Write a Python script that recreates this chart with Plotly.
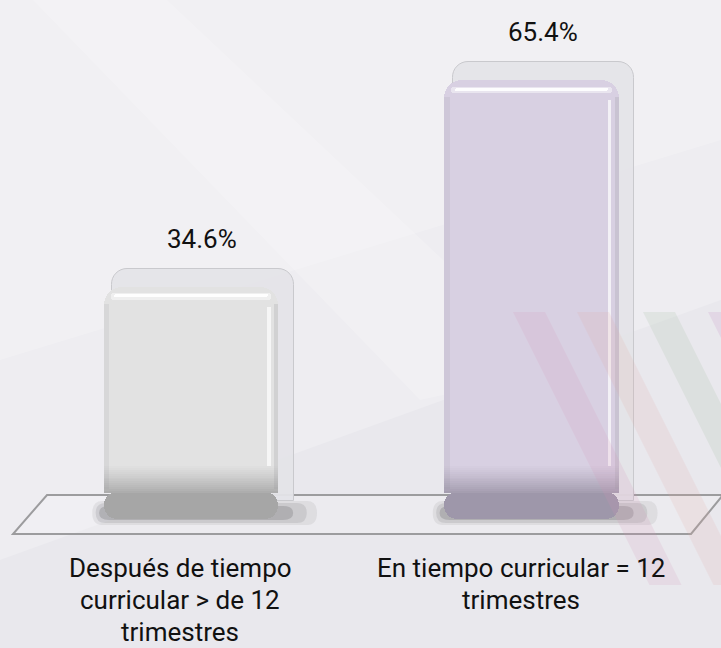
import plotly.graph_objects as go

# ---------------- data ----------------
categories = ["Después de tiempo<br>curricular > de 12<br>trimestres",
              "En tiempo curricular = 12<br>trimestres"]
values = [34.6, 65.4]
value_labels = [f"{v:.1f}%" for v in values]

# ---------------- styling constants ----------------
W, H = 721, 648
FONT = "Roboto, Liberation Sans, sans-serif"
FS = 26
face_rgb = [(226, 226, 226), (216, 208, 226)]
cap_rgb = [(166, 166, 166), (158, 151, 170)]
back_color = "rgba(228,228,232,0.95)"

# pixel geometry -> axis ranges (so that data map through plotly scales)
UNIT = 340.5          # px per category
C0 = 191.0            # px center of first category
X0 = -C0 / UNIT
X1 = X0 + W / UNIT
ZERO_PX = 519.0
K = (ZERO_PX - 80.0) / 65.4   # px per percentage point
Y0 = -(H - ZERO_PX) / K
Y1 = Y0 + H / K
DX_BACK, DY_BACK = 12.0, 18.0
CAP = 4.0
NB = 14
BAND = 0.28
BW = 0.513
BW_BACK = 0.532


def px(x):
    return x / W


def py(y):
    return 1 - y / H


def mix(a, b, t):
    return "rgb({},{},{})".format(*[round(a[k] + (b[k] - a[k]) * t) for k in range(3)])


idx = list(range(len(values)))

fig = go.Figure()

# back faces (base axes, shifted right/up)
fig.add_trace(go.Bar(x=idx, y=values, width=BW_BACK, xaxis="x", yaxis="y",
                     marker=dict(color=back_color, line=dict(color="#C9C9CD", width=1),
                                 cornerradius=16),
                     hoverinfo="skip", showlegend=False))
front = dict(xaxis="x2", yaxis="y2", hoverinfo="skip", showlegend=False)
# front cap (rounded bottom)
fig.add_trace(go.Bar(x=idx, y=[-CAP for _ in values], base=[CAP for _ in values], width=BW,
                     marker=dict(color=[mix(c, c, 0) for c in cap_rgb],
                                 cornerradius=26, line=dict(width=0)), **front))
# front main face (rounded top)
fig.add_trace(go.Bar(x=idx, y=[v - CAP for v in values], base=[CAP for _ in values], width=BW,
                     marker=dict(color=[mix(f, f, 0) for f in face_rgb], cornerradius=18,
                                 line=dict(width=0)), **front))
# lower shading bands (gradient from the cap up to the face colour)
for b in range(NB):
    t = ((b + 1) / (NB + 1)) ** 0.8
    fig.add_trace(go.Bar(x=idx, y=[BAND for _ in values], base=[CAP + b * BAND for _ in values], width=BW,
                         marker=dict(color=[mix(c, f, t) for c, f in zip(cap_rgb, face_rgb)],
                                     line=dict(width=0)), **front))
# top white highlight (soft)
fig.add_trace(go.Bar(x=idx, y=[1.0 for _ in values], base=[v - 2.0 for v in values], width=0.47,
                     marker=dict(color="rgba(255,255,255,0.45)", line=dict(width=0), cornerradius=3),
                     **front))
fig.add_trace(go.Bar(x=idx, y=[0.45 for _ in values], base=[v - 1.6 for v in values], width=0.45,
                     marker=dict(color="rgba(255,255,255,0.9)", line=dict(width=0), cornerradius=2),
                     **front))
# right edge highlight
fig.add_trace(go.Bar(x=idx, y=[v - CAP - NB * BAND - 3.0 for v in values], base=[CAP + NB * BAND for _ in values],
                     width=0.010, offset=0.224,
                     marker=dict(color="rgba(255,255,255,0.7)", line=dict(width=0)), **front))
# right edge soft dark
fig.add_trace(go.Bar(x=idx, y=[v - CAP - 3.0 for v in values], base=[CAP + 0.5 for _ in values],
                     width=0.012, offset=0.2445,
                     marker=dict(color="rgba(150,150,155,0.22)", line=dict(width=0)), **front))
# left edge soft dark
fig.add_trace(go.Bar(x=idx, y=[v - CAP - 3.0 for v in values], base=[CAP + 0.5 for _ in values],
                     width=0.016, offset=-0.2565,
                     marker=dict(color="rgba(140,140,145,0.12)", line=dict(width=0)), **front))

shapes = []
# background light overlays
shapes.append(dict(type="path", xref="paper", yref="paper", layer="below",
                   path=f"M {px(0)},{py(0)} L {px(W)},{py(0)} L {px(W)},{py(300)} L {px(0)},{py(560)} Z",
                   fillcolor="rgba(255,255,255,0.22)", line=dict(width=0)))
shapes.append(dict(type="path", xref="paper", yref="paper", layer="below",
                   path=f"M {px(0)},{py(0)} L {px(W)},{py(0)} L {px(W)},{py(140)} L {px(0)},{py(360)} Z",
                   fillcolor="rgba(255,255,255,0.2)", line=dict(width=0)))
shapes.append(dict(type="path", xref="paper", yref="paper", layer="below",
                   path=f"M {px(33)},{py(0)} L {px(167)},{py(0)} L {px(560)},{py(370)} L {px(420)},{py(400)} Z",
                   fillcolor="rgba(255,255,255,0.18)", line=dict(width=0)))
# floor
shapes.append(dict(type="path", xref="paper", yref="paper", layer="below",
                   path=f"M {px(47)},{py(495)} L {px(723)},{py(495)} L {px(691)},{py(534)} L {px(13)},{py(534)} Z",
                   fillcolor="rgba(255,255,255,0.15)", line=dict(color="#9C9C9E", width=2)))


def pill(x0, x1, y0, y1, r):
    ym = (y0 + y1) / 2
    return (f"M {px(x0 + r)},{py(y0)} L {px(x1 - r)},{py(y0)} "
            f"Q {px(x1)},{py(y0)} {px(x1)},{py(ym)} Q {px(x1)},{py(y1)} {px(x1 - r)},{py(y1)} "
            f"L {px(x0 + r)},{py(y1)} Q {px(x0)},{py(y1)} {px(x0)},{py(ym)} "
            f"Q {px(x0)},{py(y0)} {px(x0 + r)},{py(y0)} Z")


# soft shadows under bars
for i in idx:
    for (a, b, t, u, op) in [(-0.29, 0.37, 501, 525, 0.10), (-0.28, 0.34, 503, 523, 0.15),
                             (-0.27, 0.30, 506, 520, 0.25)]:
        shapes.append(dict(type="path", xref="paper", yref="paper", layer="below",
                           path=pill(C0 + (i + a) * UNIT, C0 + (i + b) * UNIT, t, u, 10),
                           fillcolor=f"rgba(95,95,100,{op})", line=dict(width=0)))
# decorative diagonal stripes (drawn faintly over the chart)
stripe_cols = ["rgba(215,150,185,0.17)", "rgba(225,170,160,0.16)",
               "rgba(170,195,170,0.20)", "rgba(200,150,200,0.20)"]
stripe_x = [513, 577, 643, 708]
for sx, col in zip(stripe_x, stripe_cols):
    top, bot, sw, sl = 312, 585, 32, 0.5
    shapes.append(dict(type="path", xref="paper", yref="paper", layer="above",
                       path=(f"M {px(sx)},{py(top)} L {px(sx + sw)},{py(top)} "
                             f"L {px(sx + sw + sl * (bot - top))},{py(bot)} L {px(sx + sl * (bot - top))},{py(bot)} Z"),
                       fillcolor=col, line=dict(width=0)))

annotations = []
# value labels above the back faces
for i, lab in zip(idx, value_labels):
    annotations.append(dict(x=i, y=values[i], xref="x", yref="y", text=lab, showarrow=False,
                            yanchor="middle", yshift=30, xshift=-1,
                            font=dict(family=FONT, size=FS, color="#111111")))
# category labels, one annotation per line
line_mid_px = [568, 600, 632]
for i, cat in zip(idx, categories):
    for j, line in enumerate(cat.split("<br>")):
        annotations.append(dict(x=i, y=py(line_mid_px[j]), xref="x2", yref="paper", text=line,
                                showarrow=False, yanchor="middle", xshift=-11,
                                font=dict(family=FONT, size=FS, color="#111111")))

fig.update_layout(
    width=W, height=H,
    margin=dict(l=0, r=0, t=0, b=0),
    paper_bgcolor="#E9E8ED", plot_bgcolor="rgba(0,0,0,0)",
    barmode="overlay", bargap=0,
    showlegend=False,
    xaxis=dict(range=[X0 - DX_BACK / UNIT, X1 - DX_BACK / UNIT], domain=[0, 1], visible=False, fixedrange=True),
    yaxis=dict(range=[Y0 - DY_BACK / K, Y1 - DY_BACK / K], domain=[0, 1], visible=False, fixedrange=True),
    xaxis2=dict(range=[X0, X1], overlaying="x", visible=False, fixedrange=True),
    yaxis2=dict(range=[Y0, Y1], overlaying="y", visible=False, fixedrange=True),
    shapes=shapes,
    annotations=annotations,
)

fig.write_html("out.html", config={"displayModeBar": False},
               post_script="document.body.style.margin='0';document.body.style.overflow='hidden';")
